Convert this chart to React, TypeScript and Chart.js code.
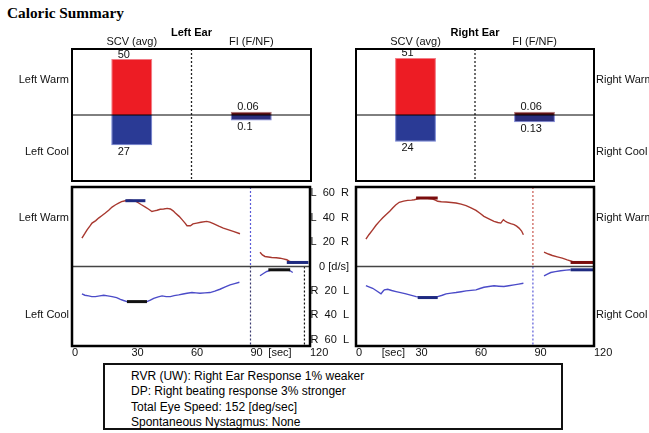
import React, { useEffect, useRef } from 'react';
import { Chart, registerables } from 'chart.js';

Chart.register(...registerables);

const FONT = "'Liberation Sans', Arial, Helvetica, sans-serif";
Chart.defaults.font.family = FONT;
Chart.defaults.font.size = 11;
Chart.defaults.color = '#111';

// ---------- Top panels (bar summary) ----------
const barCategories = ['SCV (avg)', 'FI (F/NF)'];
const leftScvWarm = [50, null];
const leftScvCool = [-27, null];
const leftFiWarm = [null, 0.06];
const leftFiCool = [null, -0.1];
const rightScvWarm = [51, null];
const rightScvCool = [-24, null];
const rightFiWarm = [null, 0.06];
const rightFiCool = [null, -0.13];
const scvRange = [-59, 59];
const fiRange = [-1.2, 1.2];
const leftRowLabels = ['Left Warm', 'Left Cool'];
const rightRowLabels = ['Right Warm', 'Right Cool'];
const topRowLabelValues = [31, -33];

// ---------- Bottom panels (slow phase velocity traces) ----------
const timeRange = [0, 120];
const velRange = [-65, 65];
const velTicks = [60, 40, 20, 0, -20, -40, -60];
const bottomRowLabelValues = [40, -40];
const timeTicks = [0, 30, 60, 90, 120];
const secLabelLeft = 99;
const secLabelRight = 13;

const leftWarm = [
  [5, 23.2], [6.5, 27], [7.6, 30], [9, 33], [10.1, 35.5], [12, 37.5], [13.4, 39.6], [15, 41.5],
  [16.8, 43.7], [18.5, 46], [20.2, 48.6], [22, 50.5], [23.5, 51.9], [25, 53], [26.9, 53.8],
  [29, 54.2], [31.1, 53.8], [32.5, 53], [33.6, 51.9], [35, 50.5], [37, 48.6], [38.5, 47],
  [40.3, 45], [41.5, 45.5], [42.9, 46], [44.5, 46.8], [46.2, 47], [48, 47.5], [49.6, 47],
  [51, 45.5], [52.1, 43.7], [54, 41], [55.5, 38.3], [57, 35.5], [58, 33.3], [59.7, 33.3],
  [61, 34.8], [62.9, 35.5], [65, 36.2], [67.9, 36.9], [69.5, 36.3], [71.3, 35], [74, 33],
  [76.3, 31.4], [79, 30], [81.3, 28.7], [84.7, 26.8],
];
const leftWarmLate = [
  [94.8, 11.7], [96, 9.5], [97.3, 8.2], [99, 7.8], [100.7, 7.4], [103, 7.2], [104.9, 6.8],
  [106.5, 6.2], [108.3, 5.5], [109.5, 4.4], [110.8, 3.3], [112, 2.8],
];
const leftCool = [
  [5, -22.4], [6.5, -23.5], [8.4, -24], [10, -24.6], [11.8, -24.6], [14, -24], [16, -23.5],
  [18, -24], [20.2, -24.6], [22.5, -25.5], [24.4, -26.8], [26, -27.8], [27.7, -28.7],
  [32.8, -28.7], [37.8, -28.7], [39.5, -27.5], [41.2, -26], [43.5, -24.8], [45.4, -24],
  [47.5, -24.6], [49.6, -24.6], [51.5, -23.8], [53.8, -23.2], [56, -22.5], [58, -21.9],
  [60.5, -21.3], [62.5, -21.6], [64.5, -21.9], [67, -21.6], [69.6, -21.3], [72, -20.2],
  [74.6, -18.6], [77, -16.8], [79.7, -15], [82, -14], [84.4, -12.9],
];
const leftCoolLate = [
  [94.8, -7.6], [96.5, -5.7], [98.2, -4.1], [100, -3.2], [101.5, -2.7], [105, -2.5],
  [108, -2.6], [110, -3.5], [111.3, -4.9],
];
const leftWarmPeak = [[26.9, 53.8], [37, 53.8]];
const leftCoolPeak = [[27.7, -28.7], [37.8, -28.7]];
const leftWarmLatePeak = [[108.3, 3.3], [119.2, 3.3]];
const leftCoolLatePeak = [[99, -2.7], [110, -2.7]];

const rightWarm = [
  [5, 22.4], [6.5, 26], [8.4, 30], [10, 33.5], [11.8, 36.9], [13.5, 39.8], [15.1, 42.4],
  [17, 45.2], [18.5, 47.8], [20, 50.3], [21.8, 52.5], [24, 53.5], [26.1, 54.1], [28, 54.3],
  [29.4, 54.6], [31.5, 55.5], [33.6, 56], [36, 55.8], [38.7, 55.2], [40, 54.3], [41.2, 53.3],
  [43, 52.9], [45.4, 52.7], [48, 52.3], [50.4, 51.9], [53, 51], [55.5, 49.8], [58, 48],
  [60.5, 45.9], [62.5, 43.5], [64.5, 41], [67, 39], [69.6, 36.9], [71.5, 36], [73, 35.5],
  [74.3, 38.3], [75.3, 37], [76.3, 36], [78, 35], [79.7, 34.2], [81, 33], [82.2, 31.4],
  [83.5, 29], [84.4, 26],
];
const rightWarmLate = [
  [94.8, 11.7], [97, 10.2], [99, 9], [101.5, 7.9], [104, 6.8], [106.5, 5.4], [109.1, 4.1], [111, 3.6],
];
const rightCool = [
  [5, -15.6], [6.5, -16.6], [8.4, -17.8], [10.5, -20], [12.6, -22.4], [13.5, -20.5],
  [14.3, -19.1], [16, -18.6], [18, -19.6], [20.2, -20.5], [22.5, -21.4], [25.2, -22.4],
  [28, -23.6], [30.3, -24.6], [33, -25], [36.2, -25.2], [38.5, -25], [41.2, -24.6],
  [43.5, -23.5], [45.4, -22.4], [48, -21.8], [50.4, -21.3], [53, -20.6], [55.5, -19.9],
  [58, -19.5], [60.5, -19.1], [62.5, -18], [64.5, -17], [67, -16.4], [69.6, -15.8],
  [72, -16.1], [74.6, -16.4], [77, -15.7], [79.7, -15], [82, -14.4], [84.4, -13.7],
];
const rightCoolLate = [
  [94.8, -7.6], [96.5, -6.2], [98.2, -4.9], [100.5, -4.2], [103.2, -3.5], [106, -3], [108.2, -2.7],
];
const rightWarmPeak = [[30.3, 56], [41.2, 56]];
const rightCoolPeak = [[31.1, -25.4], [41.2, -25.4]];
const rightWarmLatePeak = [[108.2, 3.3], [120, 3.3]];
const rightCoolLatePeak = [[108.2, -2.7], [120, -2.7]];

const leftStimulusEnd = 90;
const leftFixationEnd = 117.2;
const rightStimulusEnd = 89.2;

const summaryLines = [
  'RVR (UW): Right Ear Response 1% weaker',
  'DP: Right beating response 3% stronger',
  'Total Eye Speed: 152 [deg/sec]',
  'Spontaneous Nystagmus: None',
];

// ---------- colours ----------
const WARM = '#A8382F';
const COOL = '#4B4BC8';
const NAVY = '#1E2A80';
const BLACK = '#111111';
const DARKRED = '#7A0D0D';

// ---------- decoration plugin ----------
const decorPlugin = {
  id: 'decor',
  afterDatasetsDraw(chart: any, _args: any, opts: any) {
    const ctx = chart.ctx;
    const a = chart.chartArea;
    ctx.save();
    (opts.vLines || []).forEach((v: any) => {
      const x = chart.scales.x.getPixelForValue(v.value);
      const ys = chart.scales[v.scale || 'y'];
      const y1 = v.from == null ? a.top : ys.getPixelForValue(v.from);
      const y2 = v.to == null ? a.bottom : ys.getPixelForValue(v.to);
      ctx.beginPath();
      ctx.setLineDash([2, 2]);
      ctx.strokeStyle = v.color;
      ctx.lineWidth = v.width || 1.2;
      ctx.moveTo(x, y1);
      ctx.lineTo(x, y2);
      ctx.stroke();
    });
    ctx.setLineDash([]);
    (opts.hLines || []).forEach((h: any) => {
      const y = chart.scales[h.scale || 'y'].getPixelForValue(h.value);
      ctx.beginPath();
      ctx.strokeStyle = h.color;
      ctx.lineWidth = h.width || 1;
      ctx.moveTo(a.left, y);
      ctx.lineTo(a.right, y);
      ctx.stroke();
    });
    if (opts.barLabels) {
      ctx.font = `11px ${FONT}`;
      ctx.fillStyle = '#111';
      ctx.textAlign = 'left';
      ctx.textBaseline = 'alphabetic';
      chart.data.datasets.forEach((ds: any, di: number) => {
        const meta = chart.getDatasetMeta(di);
        meta.data.forEach((el: any, i: number) => {
          const v = ds.data[i];
          if (v == null) return;
          const p = el.getProps(['x', 'y'], true);
          const ty = v >= 0 ? p.y - 1.5 : p.y + 9.5;
          ctx.fillText(String(Math.abs(v)), p.x - 14, ty);
        });
      });
    }
    ctx.restore();
  },
  afterDraw(chart: any, _args: any, opts: any) {
    const ctx = chart.ctx;
    const a = chart.chartArea;
    ctx.save();
    ctx.strokeStyle = '#000';
    ctx.lineWidth = opts.frame || 2;
    ctx.strokeRect(a.left, a.top, a.right - a.left, a.bottom - a.top);
    ctx.restore();
  },
};

const labelAxis = (position: string, range: number[], values: number[], labels: string[], width: number, padding: number) => ({
  type: 'linear',
  position,
  min: range[0],
  max: range[1],
  grid: { display: false, drawTicks: false },
  border: { display: false },
  afterBuildTicks: (s: any) => {
    s.ticks = values.map((v) => ({ value: v }));
  },
  ticks: {
    padding,
    autoSkip: false,
    callback: (v: number) => labels[values.indexOf(v)] ?? '',
  },
  afterFit: (s: any) => {
    s.width = width;
  },
});

function topConfig(side: 'left' | 'right') {
  const isLeft = side === 'left';
  const scvW = isLeft ? leftScvWarm : rightScvWarm;
  const scvC = isLeft ? leftScvCool : rightScvCool;
  const fiW = isLeft ? leftFiWarm : rightFiWarm;
  const fiC = isLeft ? leftFiCool : rightFiCool;
  return {
    type: 'bar',
    data: {
      labels: barCategories,
      datasets: [
        { label: 'SCV warm', data: scvW, yAxisID: 'y', backgroundColor: '#ED1C24', borderColor: '#F27C86', borderWidth: 1 },
        { label: 'SCV cool', data: scvC, yAxisID: 'y', backgroundColor: '#2A3A95', borderColor: '#6E7ED2', borderWidth: 1 },
        { label: 'FI warm', data: fiW, yAxisID: 'y2', backgroundColor: '#5E1015', borderColor: '#B07474', borderWidth: 1 },
        { label: 'FI cool', data: fiC, yAxisID: 'y2', backgroundColor: '#2B2D7C', borderColor: '#7C84D8', borderWidth: 1 },
      ],
    },
    plugins: [decorPlugin],
    options: {
      responsive: false,
      animation: false,
      events: [],
      barPercentage: 0.343,
      categoryPercentage: 1,
      layout: { padding: isLeft ? { left: 0, right: 9, top: 6, bottom: 14 } : { left: 20, right: 0, top: 6, bottom: 14 } },
      plugins: {
        legend: { display: false },
        tooltip: { enabled: false },
        decor: {
          frame: 2,
          barLabels: true,
          hLines: [{ value: 0, scale: 'y', color: '#000', width: 1 }],
          vLines: [{ value: 0.5, scale: 'y', color: '#222', width: 1.3 }],
        },
      },
      scales: {
        x: {
          type: 'category',
          position: 'top',
          stacked: true,
          offset: true,
          grid: { display: false, drawTicks: false },
          border: { display: false },
          ticks: { padding: 0, color: '#111', autoSkip: false, maxRotation: 0 },
          title: {
            display: true,
            text: isLeft ? 'Left Ear' : 'Right Ear',
            color: '#000',
            font: { size: 11, weight: 'bold' },
            padding: 0,
          },
          afterFit: (s: any) => {
            s.height = 23;
          },
        },
        y: { type: 'linear', min: scvRange[0], max: scvRange[1], display: false },
        y2: { type: 'linear', min: fiRange[0], max: fiRange[1], display: false },
        yl: labelAxis(
          isLeft ? 'left' : 'right',
          scvRange,
          topRowLabelValues,
          isLeft ? leftRowLabels : rightRowLabels,
          isLeft ? 72 : 55,
          isLeft ? 3 : 2,
        ),
      },
    },
  };
}

const toXY = (pts: number[][]) => pts.map(([x, y]) => ({ x, y }));
const trace = (pts: number[][], color: string, width = 1.4) => ({
  data: toXY(pts),
  borderColor: color,
  backgroundColor: color,
  borderWidth: width,
  pointRadius: 0,
  fill: false,
  tension: 0,
  borderCapStyle: 'butt',
  yAxisID: 'y',
});

const velLabel = (v: number) => (v === 0 ? '0 [d/s]' : v > 0 ? `L  ${v}  R` : `R  ${-v}  L`);

function bottomConfig(side: 'left' | 'right') {
  const isLeft = side === 'left';
  const secAt = isLeft ? secLabelLeft : secLabelRight;
  const xTicks = [...timeTicks, secAt];
  const datasets = isLeft
    ? [
        trace(leftWarmPeak, NAVY, 3),
        trace(leftCoolPeak, BLACK, 3),
        trace(leftWarmLatePeak, NAVY, 3),
        trace(leftCoolLatePeak, BLACK, 3),
        trace(leftWarm, WARM),
        trace(leftWarmLate, WARM),
        trace(leftCool, COOL),
        trace(leftCoolLate, COOL),
      ]
    : [
        trace(rightWarmPeak, DARKRED, 3),
        trace(rightCoolPeak, NAVY, 3),
        trace(rightWarmLatePeak, DARKRED, 3),
        trace(rightCoolLatePeak, NAVY, 3),
        trace(rightWarm, WARM),
        trace(rightWarmLate, WARM),
        trace(rightCool, COOL),
        trace(rightCoolLate, COOL),
      ];
  const vLines = isLeft
    ? [
        { value: leftStimulusEnd, to: 0, color: '#5A5AD8' },
        { value: leftStimulusEnd, from: 0, color: '#3A3A70' },
        { value: leftFixationEnd, from: 0, color: '#111' },
      ]
    : [
        { value: rightStimulusEnd, to: 0, color: '#C8574F' },
        { value: rightStimulusEnd, from: 0, color: '#5A5AD8' },
      ];
  const scales: any = {
    x: {
      type: 'linear',
      position: 'bottom',
      min: timeRange[0],
      max: timeRange[1],
      grid: { display: false, drawTicks: false },
      border: { display: false },
      afterBuildTicks: (s: any) => {
        s.ticks = xTicks.map((v) => ({ value: v }));
      },
      ticks: {
        autoSkip: false,
        maxRotation: 0,
        align: 'start',
        padding: 0,
        callback: (v: number) => (v === secAt ? '[sec]' : String(v)),
      },
      afterFit: (s: any) => {
        s.height = 17;
      },
    },
  };
  if (isLeft) {
    scales.y = {
      type: 'linear',
      position: 'right',
      min: velRange[0],
      max: velRange[1],
      grid: { display: false, drawTicks: false },
      border: { display: false },
      afterBuildTicks: (s: any) => {
        s.ticks = velTicks.map((v) => ({ value: v }));
      },
      ticks: { autoSkip: false, padding: 3, crossAlign: 'far', callback: velLabel },
      afterFit: (s: any) => {
        s.width = 39;
      },
    };
    scales.yl = labelAxis('left', velRange, bottomRowLabelValues, leftRowLabels, 72, 3);
  } else {
    scales.y = { type: 'linear', min: velRange[0], max: velRange[1], display: false };
    scales.yr = labelAxis('right', velRange, bottomRowLabelValues, rightRowLabels, 55, 2);
  }
  return {
    type: 'line',
    data: { datasets },
    plugins: [decorPlugin],
    options: {
      responsive: false,
      animation: false,
      events: [],
      layout: { padding: isLeft ? { left: 0, right: 3, top: 15, bottom: 0 } : { left: 4, right: 0, top: 15, bottom: 0 } },
      plugins: {
        legend: { display: false },
        tooltip: { enabled: false },
        decor: {
          frame: 2.5,
          hLines: [{ value: 0, scale: 'y', color: '#444', width: 1.5 }],
          vLines,
        },
      },
      scales,
    },
  };
}

function ChartCanvas({ left, top, width, height, make }: { left: number; top: number; width: number; height: number; make: () => any }) {
  const ref = useRef<HTMLCanvasElement | null>(null);
  useEffect(() => {
    if (!ref.current) return;
    const chart = new Chart(ref.current, make());
    return () => chart.destroy();
  }, []);
  return (
    <canvas
      ref={ref}
      width={width}
      height={height}
      style={{ position: 'absolute', left, top, width, height }}
    />
  );
}

export default function App() {
  return (
    <div style={{ position: 'absolute', left: 0, top: 0, width: 649, height: 433, background: '#fff', overflow: 'hidden' }}>
      <div
        style={{
          position: 'absolute',
          left: 7,
          top: 4,
          font: "bold 15.3px 'Liberation Serif', 'Times New Roman', serif",
          color: '#000',
          whiteSpace: 'nowrap',
        }}
      >
        Caloric Summary
      </div>
      <ChartCanvas left={0} top={20} width={320} height={175} make={() => topConfig('left')} />
      <ChartCanvas left={336} top={20} width={313} height={175} make={() => topConfig('right')} />
      <ChartCanvas left={0} top={172} width={352} height={191} make={() => bottomConfig('left')} />
      <ChartCanvas left={352} top={172} width={297} height={191} make={() => bottomConfig('right')} />
      <div
        style={{
          position: 'absolute',
          left: 103,
          top: 363,
          width: 460,
          height: 67,
          boxSizing: 'border-box',
          border: '2px solid #111',
          padding: '4px 0 0 26px',
          font: `12px ${FONT}`,
          lineHeight: '15.3px',
          color: '#000',
          whiteSpace: 'nowrap',
        }}
      >
        {summaryLines.map((t) => (
          <div key={t}>{t}</div>
        ))}
      </div>
    </div>
  );
}
